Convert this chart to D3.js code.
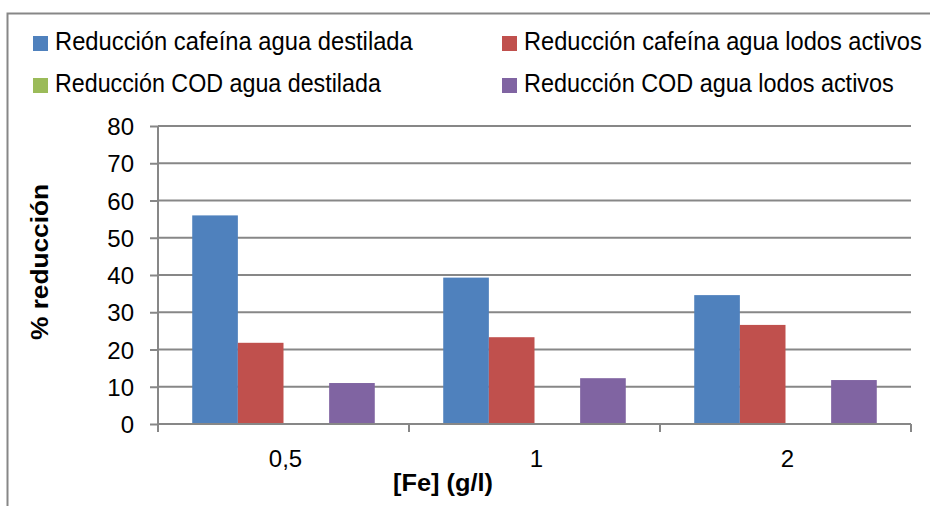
<!DOCTYPE html>
<html>
<head>
<meta charset="utf-8">
<script src="https://cdn.jsdelivr.net/npm/d3@7"></script>
<style>
  html, body { margin: 0; padding: 0; background: #fff; }
  svg { display: block; }
  text { font-family: "Liberation Sans", Arial, sans-serif; fill: #000; }
</style>
</head>
<body>
<svg id="chart" width="930" height="506"></svg>
<script>
// Iron dose categories
const categories = ["0,5", "1", "2"];

// Series names and their colours
const seriesNames = [
  "Reducción cafeína agua destilada",
  "Reducción cafeína agua lodos activos",
  "Reducción COD agua destilada",
  "Reducción COD agua lodos activos"
];
const seriesColors = ["#4F81BD", "#C0504D", "#9BBB59", "#8064A2"];

// Percentage reduction per series, one value per category
const cafeinaDestilada = [56, 39.3, 34.6];
const cafeinaLodos = [21.8, 23.3, 26.6];
const codDestilada = [0, 0, 0];
const codLodos = [11, 12.3, 11.8];
const seriesValues = [cafeinaDestilada, cafeinaLodos, codDestilada, codLodos];

const yTicks = [0, 10, 20, 30, 40, 50, 60, 70, 80];

const svg = d3.select("#chart");
const gray = "#878787";

// Squeeze a text horizontally to a target width, keeping its glyph height
function narrowTo(sel, width) {
  sel.each(function (d) {
    const w = typeof width === "function" ? width(d) : width;
    const natural = this.getComputedTextLength();
    const base = d3.select(this).attr("transform") || "";
    const anchorX = +d3.select(this).attr("x") || 0;
    d3.select(this).attr("transform",
      `${base} translate(${anchorX},0) scale(${w / natural},1) translate(${-anchorX},0)`);
  });
}

// Outer frame (top and left edges)
svg.append("path")
  .attr("d", "M7.5,506 V13.5 H930")
  .attr("fill", "none")
  .attr("stroke", gray)
  .attr("stroke-width", 2);

const plot = { left: 158, right: 911, top: 126, bottom: 424 };

const x0 = d3.scaleBand().domain(categories).range([plot.left, plot.right]).padding(0);
const x1 = d3.scaleBand().domain(d3.range(seriesNames.length))
  .range([0, x0.bandwidth()]).paddingInner(0).paddingOuter(0.75);
const y = d3.scaleLinear().domain([0, 80]).range([plot.bottom, plot.top]);

// Horizontal gridlines
svg.append("g")
  .selectAll("line")
  .data(yTicks.filter(d => d > 0))
  .join("line")
  .attr("x1", plot.left).attr("x2", plot.right)
  .attr("y1", d => y(d)).attr("y2", d => y(d))
  .attr("stroke", gray).attr("stroke-width", 2);

// Bars
const rows = categories.map((c, i) => ({ cat: c, vals: seriesValues.map(s => s[i]) }));
svg.append("g")
  .selectAll("g")
  .data(rows)
  .join("g")
  .attr("transform", d => `translate(${x0(d.cat)},0)`)
  .selectAll("rect")
  .data(d => d.vals.map((v, k) => ({ v, k })))
  .join("rect")
  .attr("x", d => x1(d.k))
  .attr("width", x1.bandwidth())
  .attr("y", d => y(d.v))
  .attr("height", d => y(0) - y(d.v))
  .attr("fill", d => seriesColors[d.k]);

// Y axis
const yAxis = svg.append("g")
  .attr("transform", `translate(${plot.left},0)`)
  .call(d3.axisLeft(y).tickValues(yTicks).tickSize(8).tickPadding(16).tickSizeOuter(0));
yAxis.select(".domain").remove();
yAxis.selectAll(".tick line").attr("stroke", gray).attr("stroke-width", 2);
yAxis.selectAll(".tick text")
  .style("font-family", "'Liberation Sans', Arial, sans-serif")
  .attr("font-size", 24).attr("dy", "0.36em");
svg.append("line")
  .attr("x1", plot.left).attr("x2", plot.left)
  .attr("y1", plot.top).attr("y2", plot.bottom + 8)
  .attr("stroke", gray).attr("stroke-width", 2);

// X axis baseline and category boundary ticks
svg.append("line")
  .attr("x1", plot.left).attr("x2", plot.right)
  .attr("y1", plot.bottom).attr("y2", plot.bottom)
  .attr("stroke", gray).attr("stroke-width", 2);
const boundaries = categories.map(c => x0(c)).concat([plot.right]);
svg.append("g")
  .selectAll("line")
  .data(boundaries)
  .join("line")
  .attr("x1", d => d).attr("x2", d => d)
  .attr("y1", plot.bottom).attr("y2", plot.bottom + 8)
  .attr("stroke", gray).attr("stroke-width", 2);

// Category labels
svg.append("g")
  .selectAll("text")
  .data(categories)
  .join("text")
  .attr("x", d => x0(d) + x0.bandwidth() / 2 + 2)
  .attr("y", 467)
  .attr("text-anchor", "middle")
  .attr("font-size", 24)
  .text(d => d);

// Axis titles
svg.append("text")
  .attr("x", 443).attr("y", 491)
  .attr("text-anchor", "middle")
  .attr("font-size", 24).attr("font-weight", "bold")
  .text("[Fe] (g/l)")
  .call(narrowTo, 100);

svg.append("g")
  .attr("transform", "translate(48,262) rotate(-90)")
  .append("text")
  .attr("x", 0).attr("y", 0)
  .attr("text-anchor", "middle")
  .attr("font-size", 24).attr("font-weight", "bold")
  .text("% reducción")
  .call(narrowTo, 156);

// Legend: two rows, two columns
const legendItems = seriesNames.map((name, i) => ({
  name,
  color: seriesColors[i],
  sx: i % 2 === 0 ? 33 : 502,
  row: Math.floor(i / 2),
  len: [358, 398, 326, 370][i]
}));
const leg = svg.append("g")
  .selectAll("g")
  .data(legendItems)
  .join("g")
  .attr("transform", d => `translate(${d.sx},${d.row === 0 ? 36 : 78})`);
leg.append("rect")
  .attr("width", 15).attr("height", 15)
  .attr("fill", d => d.color);
leg.append("text")
  .attr("x", 22).attr("y", 14)
  .attr("font-size", 25)
  .text(d => d.name)
  .call(narrowTo, d => d.len);
</script>
</body>
</html>
